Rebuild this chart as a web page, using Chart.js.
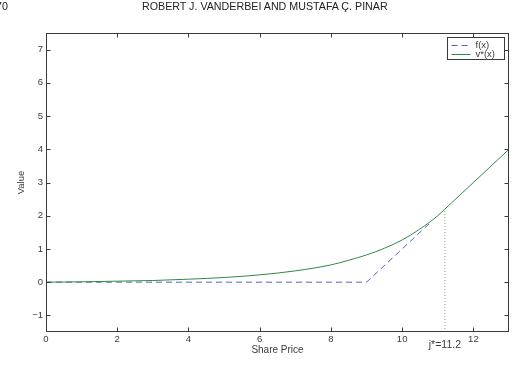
<!DOCTYPE html>
<html>
<head>
<meta charset="utf-8">
<script src="https://cdn.jsdelivr.net/npm/chart.js@4.4.0/dist/chart.umd.min.js"></script>
<style>
  body { margin: 0; background: #fff; }
  #wrap { position: relative; width: 522px; height: 379px; overflow: hidden; }
  #wrap canvas { position: absolute; left: 0; top: 0; }
  .hdr { position: absolute; top: 0; z-index: 2; font-family: "Liberation Sans", Arial, sans-serif;
         font-size: 10.7px; line-height: 12px; color: #222; white-space: nowrap; }
</style>
</head>
<body>
<div id="wrap">
  <div class="hdr" style="left:-4px">70</div>
  <div class="hdr" style="left:142px">ROBERT J. VANDERBEI AND MUSTAFA Ç. PINAR</div>
  <canvas id="c" width="522" height="379"></canvas>
</div>
<script>
// share price grid and v*(x)
const priceX = [0, 1, 2, 3, 4, 5, 6, 7, 8, 8.5, 9, 9.5, 10, 10.5, 11, 11.2, 12, 13];
const valueV = [0, 0.01, 0.03, 0.05, 0.09, 0.14, 0.22, 0.34, 0.52, 0.66, 0.82, 1.02, 1.27, 1.6, 2.0, 2.2, 3.0, 4.0];
// payoff f(x), dashed part only
const payoffX = [0, 9, 10.8];
const payoffF = [0, 0, 1.8];
const jStar = 11.2;
const xTicks = [0, 2, 4, 6, 8, 10, 12];
const yTicks = [-1, 0, 1, 2, 3, 4, 5, 6, 7];

const FONT = '"Liberation Sans", Arial, sans-serif';
const INK = '#3a3a3a';
const pts = (xs, ys) => xs.map((v, i) => ({ x: v, y: ys[i] }));

const frame = {
  id: 'frame',
  afterDatasetsDraw(chart) {
    const { ctx, chartArea: a, scales: { x, y } } = chart;
    const L = Math.round(a.left) + 0.5, R = Math.round(a.right) - 0.5;
    const T = Math.round(a.top) + 0.5, B = Math.round(a.bottom) - 0.5;
    ctx.save();
    ctx.strokeStyle = INK;
    ctx.lineWidth = 1;
    ctx.strokeRect(L, T, R - L, B - T);
    ctx.beginPath();
    xTicks.forEach(v => {
      const p = Math.round(x.getPixelForValue(v)) + 0.5;
      ctx.moveTo(p, B); ctx.lineTo(p, B - 4);
      ctx.moveTo(p, T); ctx.lineTo(p, T + 4);
    });
    yTicks.forEach(v => {
      const p = Math.round(y.getPixelForValue(v)) + 0.5;
      ctx.moveTo(L, p); ctx.lineTo(L + 4, p);
      ctx.moveTo(R, p); ctx.lineTo(R - 4, p);
    });
    ctx.stroke();

    // j* label under the axis
    ctx.fillStyle = INK;
    ctx.font = '10.5px ' + FONT;
    ctx.textAlign = 'center';
    ctx.textBaseline = 'middle';
    ctx.fillText('j*=' + jStar, x.getPixelForValue(jStar), 345);

    // legend box
    const bw = 57, bh = 22, bx = R - 4 - bw, by = T + 4;
    ctx.fillStyle = '#fff';
    ctx.fillRect(bx, by, bw, bh);
    ctx.strokeRect(bx, by, bw, bh);
    ctx.font = '9.5px ' + FONT;
    ctx.textAlign = 'left';
    chart.data.datasets.slice(0, 2).forEach((ds, i) => {
      const ly = Math.round(by + 7 + i * 9) + 0.5;
      ctx.strokeStyle = ds.borderColor;
      ctx.setLineDash(ds.borderDash || []);
      ctx.beginPath();
      ctx.moveTo(bx + 4, ly); ctx.lineTo(bx + 23, ly);
      ctx.stroke();
      ctx.setLineDash([]);
      ctx.fillStyle = INK;
      ctx.fillText(ds.label, bx + 28, ly);
    });
    ctx.restore();
  }
};

new Chart(document.getElementById('c'), {
  type: 'line',
  data: {
    datasets: [{
      label: 'f(x)',
      data: pts(payoffX, payoffF),
      borderColor: '#5563b8',
      borderWidth: 1,
      borderDash: [6, 4],
      pointRadius: 0,
      order: 2
    }, {
      label: 'v*(x)',
      data: pts(priceX, valueV),
      borderColor: '#2f8a45',
      borderWidth: 1,
      cubicInterpolationMode: 'monotone',
      pointRadius: 0,
      order: 1
    }, {
      label: 'jstar',
      data: [{ x: jStar, y: -1.5 }, { x: jStar, y: valueV[priceX.indexOf(jStar)] }],
      borderColor: '#999',
      borderWidth: 1,
      borderDash: [1, 2],
      pointRadius: 0,
      order: 3
    }]
  },
  options: {
    responsive: false,
    animation: false,
    devicePixelRatio: 1,
    layout: { padding: { top: 33, right: 13, left: 0, bottom: 0 } },
    plugins: { legend: { display: false }, tooltip: { enabled: false } },
    scales: {
      x: {
        type: 'linear', min: 0, max: 13,
        grid: { display: false, drawTicks: false },
        border: { display: false },
        afterBuildTicks: s => { s.ticks = xTicks.map(v => ({ value: v })); },
        afterFit: s => { s.height = 47; },
        ticks: { color: INK, font: { family: FONT, size: 9.5 }, padding: 2, maxRotation: 0 },
        title: { display: true, text: 'Share Price', color: INK, font: { family: FONT, size: 10 },
                 padding: { top: 0, bottom: 23 } }
      },
      y: {
        min: -1.5, max: 7.5,
        grid: { display: false, drawTicks: false },
        border: { display: false },
        afterBuildTicks: s => { s.ticks = yTicks.map(v => ({ value: v })); },
        afterFit: s => { s.width = 46; },
        ticks: { color: INK, font: { family: FONT, size: 9.5 }, padding: 3,
                 callback: v => v < 0 ? '\u2212' + Math.abs(v) : v },
        title: { display: true, text: 'Value', color: INK, font: { family: FONT, size: 9.5 },
                 padding: { top: 16, bottom: 0 } }
      }
    }
  },
  plugins: [frame]
});
</script>
</body>
</html>
